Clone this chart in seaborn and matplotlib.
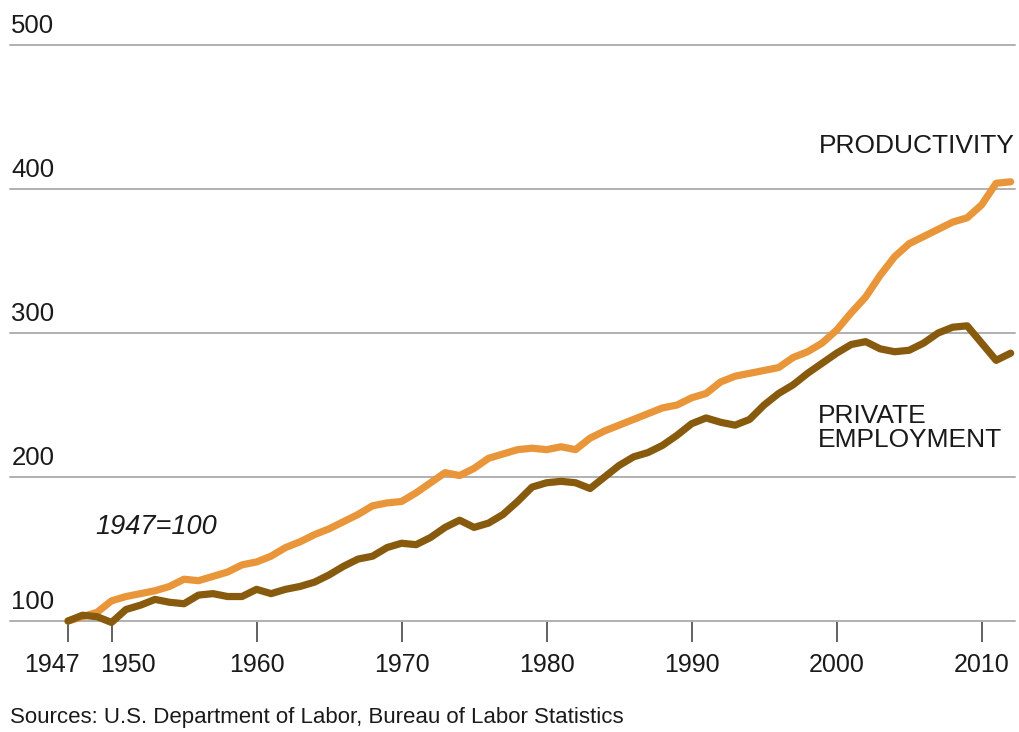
import numpy as np
import pandas as pd
import matplotlib
matplotlib.use("Agg")
import matplotlib.pyplot as plt
import matplotlib.transforms as mtransforms
import seaborn as sns

# index values, 1947=100
years = list(range(1947, 2013))
productivity = [100, 103, 106, 114, 117, 119, 121, 124, 129, 128,
                131, 134, 139, 141, 145, 151, 155, 160, 164, 169,
                174, 180, 182, 183, 189, 196, 203, 201, 206, 213,
                216, 219, 220, 219, 221, 219, 227, 232, 236, 240,
                244, 248, 250, 255, 258, 266, 270, 272, 274, 276,
                283, 287, 293, 302, 314, 325, 340, 353, 362, 367,
                372, 377, 380, 389, 404, 405]
employment = [100, 104, 103, 99, 108, 111, 115, 113, 112, 118,
              119, 117, 117, 122, 119, 122, 124, 127, 132, 138,
              143, 145, 151, 154, 153, 158, 165, 170, 165, 168,
              174, 183, 193, 196, 197, 196, 192, 200, 208, 214,
              217, 222, 229, 237, 241, 238, 236, 240, 250, 258,
              264, 272, 279, 286, 292, 294, 289, 287, 288, 293,
              300, 304, 305, 293, 281, 286]

xticks = [1947, 1950, 1960, 1970, 1980, 1990, 2000, 2010]
yticks = [100, 200, 300, 400, 500]

df = pd.DataFrame({"year": years + years,
                   "value": productivity + employment,
                   "series": ["Productivity"] * len(years) + ["Employment"] * len(years)})

sns.set_style("white")
plt.rcParams['font.family'] = ['Liberation Sans', 'DejaVu Sans']

fig = plt.figure(figsize=(10.19, 7.32), dpi=100)
ax = fig.add_axes([10 / 1019, 1 - 621 / 732, 1005 / 1019, 576 / 732])

for yv in yticks:
    ax.axhline(yv, color="#b0b0b0", lw=1.4, zorder=1, clip_on=False)

pal = {"Productivity": "#e9953a", "Employment": "#875a0e"}
sns.lineplot(data=df, x="year", y="value", hue="series", palette=pal,
             hue_order=["Productivity", "Employment"],
             lw=5.2, legend=False, ax=ax, zorder=3)
for ln in ax.lines:
    ln.set_clip_on(False)
    ln.set_solid_joinstyle("round")
    ln.set_solid_capstyle("round")

ax.set_xlim(1943, 2012.3)
ax.set_ylim(100, 500)
sns.despine(ax=ax, left=True, right=True, top=True, bottom=True)

ax.set_yticks([])
ax.set_xticks(xticks)
ax.set_xticklabels([str(t) for t in xticks], fontsize=18, color="#1a1a1a")
ax.tick_params(axis="x", direction="out", length=15, width=1.3,
               color="#555555", pad=8, bottom=True)
ax.set_xlabel("")
ax.set_ylabel("")

# nudge the crowded first two year labels apart
shifts = {"1947": -16, "1950": 16}
for lab in ax.get_xticklabels():
    dx = shifts.get(lab.get_text(), 0)
    if dx:
        lab.set_transform(lab.get_transform() +
                          mtransforms.ScaledTranslation(dx / 100, 0, fig.dpi_scale_trans))

for yv in yticks:
    ax.annotate(str(yv), xy=(0, yv), xycoords=("axes fraction", "data"),
                xytext=(1, 5), textcoords="offset points",
                ha="left", va="bottom", fontsize=18.5, color="#1a1a1a")

ax.text(2012.3, 430, "PRODUCTIVITY", ha="right", va="center",
        fontsize=19, color="#1a1a1a")
ax.text(1998.7, 234, "PRIVATE\nEMPLOYMENT", ha="left", va="center",
        fontsize=19, color="#1a1a1a", linespacing=1.0)
ax.text(1948.9, 165, "1947=100", ha="left", va="center",
        fontsize=19.5, style="italic", color="#1a1a1a")

fig.text(10 / 1019, 1 - 718 / 732, "Sources: U.S. Department of Labor, Bureau of Labor Statistics",
         ha="left", va="center", fontsize=16, color="#1a1a1a")

fig.savefig("out.png", dpi=100)
